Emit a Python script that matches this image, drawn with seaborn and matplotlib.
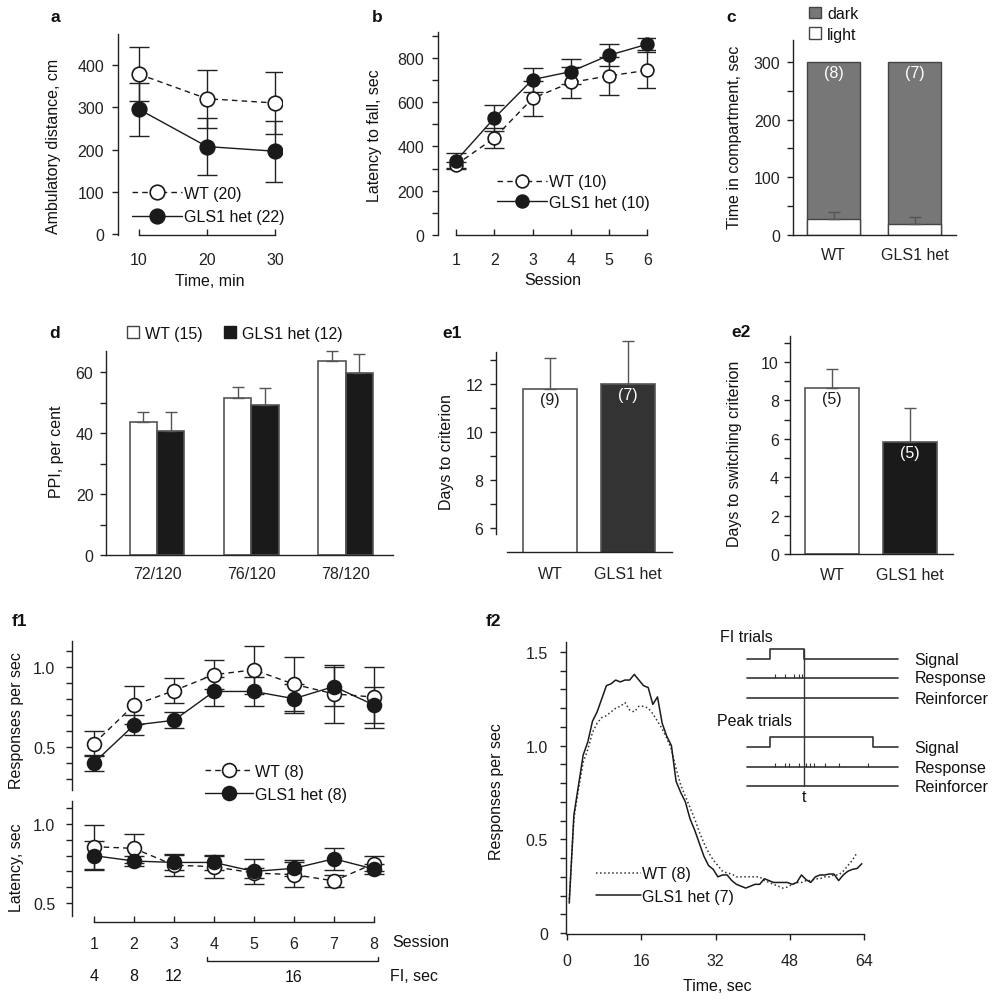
import numpy as np
import pandas as pd
import matplotlib
matplotlib.use("Agg")
import matplotlib.pyplot as plt
import seaborn as sns
from matplotlib.ticker import MultipleLocator, FixedLocator
from matplotlib.patches import Patch
from matplotlib.lines import Line2D

# ---- DATA ----
# a: ambulatory distance
time_a = [10, 20, 30]
wt_a = [378, 320, 310]
wt_a_err = [64, 68, 73]
het_a = [295, 207, 196]
het_a_err = [63, 68, 72]

# b: rotarod
session_b = [1, 2, 3, 4, 5, 6]
wt_b = [317, 438, 617, 689, 719, 744]
wt_b_err = [15, 46, 79, 68, 86, 82]
het_b = [335, 528, 702, 738, 812, 862]
het_b_err = [35, 58, 54, 56, 50, 27]

# c: light/dark box
groups = ["WT", "GLS1 het"]
light_c = [28, 19]
light_c_err = [12, 12]
dark_c = [272, 281]
n_c = ["(8)", "(7)"]

# d: PPI
ppi_conds = ["72/120", "76/120", "78/120"]
wt_d = [43.6, 51.4, 63.6]
wt_d_err = [3.2, 3.7, 3.2]
het_d = [40.6, 49.2, 59.6]
het_d_err = [6.2, 5.7, 6.3]

# e1 / e2
e1_vals = [11.8, 12.0]
e1_err = [1.28, 1.8]
n_e1 = ["(9)", "(7)"]
e2_vals = [8.63, 5.84]
e2_err = [1.02, 1.76]
n_e2 = ["(5)", "(5)"]

# f1
sessions_f1 = [1, 2, 3, 4, 5, 6, 7, 8]
wt_rate = [0.52, 0.76, 0.85, 0.95, 0.98, 0.89, 0.83, 0.81]
wt_rate_err = [0.08, 0.12, 0.08, 0.09, 0.15, 0.17, 0.18, 0.19]
het_rate = [0.40, 0.635, 0.665, 0.845, 0.845, 0.80, 0.876, 0.76]
het_rate_err = [0.05, 0.06, 0.05, 0.09, 0.09, 0.09, 0.12, 0.11]
wt_lat = [0.857, 0.846, 0.74, 0.73, 0.69, 0.68, 0.64, 0.75]
wt_lat_err = [0.14, 0.09, 0.07, 0.07, 0.03, 0.08, 0.04, 0.05]
het_lat = [0.80, 0.766, 0.757, 0.757, 0.70, 0.72, 0.78, 0.715]
het_lat_err = [0.09, 0.03, 0.05, 0.05, 0.08, 0.05, 0.07, 0.03]
fi_labels = ["4", "8", "12"]

# f2: response rate over the trial
t_het = [0.5, 1.5, 2.5, 3.5, 4.5, 5.5, 6.5, 7.5, 8.5, 9.5, 10.5, 11.5, 12.5, 13.5, 14.5, 15.5,
         16.5, 17.5, 18.5, 19.5, 20.5, 21.5, 22.5, 23.5, 24.5, 25.5, 26.5, 27.5, 28.5, 29.5, 30.5, 31.5,
         32.5, 33.5, 34.5, 35.5, 36.5, 37.5, 38.5, 39.5, 40.5, 41.5, 42.5, 43.5, 44.5, 45.5, 46.5, 47.5,
         48.5, 49.5, 50.5, 51.5, 52.5, 53.5, 54.5, 55.5, 56.5, 57.5, 58.5, 59.5, 60.5, 61.5, 62.5, 63.5]
rate_het = [0.16, 0.63, 0.79, 0.95, 1.02, 1.13, 1.18, 1.25, 1.32, 1.33, 1.35, 1.34, 1.35, 1.35, 1.38, 1.35,
            1.32, 1.31, 1.22, 1.26, 1.12, 1.05, 1.00, 0.81, 0.75, 0.70, 0.61, 0.55, 0.48, 0.41, 0.36, 0.34,
            0.30, 0.31, 0.31, 0.28, 0.26, 0.25, 0.24, 0.25, 0.26, 0.26, 0.29, 0.28, 0.27, 0.27, 0.27, 0.27,
            0.26, 0.27, 0.31, 0.285, 0.27, 0.30, 0.31, 0.31, 0.315, 0.315, 0.28, 0.31, 0.33, 0.34, 0.345, 0.37]
t_wt = [0.5, 1.5, 2.5, 3.5, 4.5, 5.5, 6.5, 7.5, 8.5, 9.5, 10.5, 11.5, 12.5, 13.5, 14.5, 15.5,
        16.5, 17.5, 18.5, 19.5, 20.5, 21.5, 22.5, 23.5, 24.5, 25.5, 26.5, 27.5, 28.5, 29.5, 30.5, 31.5,
        32.5, 33.5, 34.5, 35.5, 36.5, 37.5, 38.5, 39.5, 40.5, 41.5, 42.5, 43.5, 44.5, 45.5, 46.5, 47.5,
        48.5, 49.5, 50.5, 51.5, 52.5, 53.5, 54.5, 55.5, 56.5, 57.5, 58.5, 59.5, 60.5, 61.5, 62.5]
rate_wt = [0.18, 0.61, 0.77, 0.91, 0.98, 1.07, 1.12, 1.15, 1.16, 1.18, 1.20, 1.21, 1.23, 1.19, 1.18, 1.21,
           1.21, 1.20, 1.17, 1.13, 1.09, 1.04, 0.98, 0.88, 0.79, 0.73, 0.67, 0.61, 0.54, 0.48, 0.43, 0.39,
           0.36, 0.33, 0.32, 0.315, 0.30, 0.30, 0.30, 0.30, 0.30, 0.30, 0.28, 0.27, 0.26, 0.25, 0.24, 0.245,
           0.26, 0.27, 0.27, 0.28, 0.28, 0.29, 0.29, 0.30, 0.30, 0.31, 0.31, 0.33, 0.36, 0.39, 0.43]

# ---- STYLE ----
sns.set_style("ticks")
plt.rcParams["font.family"] = ["Liberation Sans", "DejaVu Sans"]
plt.rcParams["font.size"] = 11.5
plt.rcParams["axes.edgecolor"] = "#222222"
plt.rcParams["axes.linewidth"] = 1.0
plt.rcParams["xtick.color"] = "#222222"
plt.rcParams["ytick.color"] = "#222222"
plt.rcParams["text.color"] = "#111111"
INK = "#1a1a1a"
FS = 11.5

W, H = 1008, 1003
fig = plt.figure(figsize=(W / 100, H / 100), dpi=100)


def add_box(l, t, r, b):
    ax = fig.add_axes([l / W, 1 - b / H, (r - l) / W, (b - t) / H])
    ax.patch.set_alpha(0)
    return ax


def ftext(x, y, s, **kw):
    kw.setdefault("fontsize", FS)
    fig.text(x / W, 1 - y / H, s, **kw)


def style(ax, ypad=5, xpad=8):
    sns.despine(ax=ax)
    ax.tick_params(axis="y", which="both", direction="out", length=4, width=1, pad=ypad, labelsize=FS)
    ax.tick_params(axis="x", which="both", length=0, pad=xpad, labelsize=FS)


def mean_line(ax, x, y, err, filled, ms):
    ax.errorbar(x, y, yerr=err, fmt="none", ecolor="#222222", elinewidth=1, capsize=7,
                capthick=1, zorder=2)
    sns.lineplot(x=x, y=y, ax=ax, color=INK, linewidth=1,
                 linestyle="-" if filled else (0, (4, 3)),
                 marker="o", markersize=ms, markerfacecolor=INK if filled else "white",
                 markeredgecolor=INK, markeredgewidth=1.2, zorder=3, legend=False)


def line_legend(x, y, wt_label, het_label, ms, spacing, hl=3.1):
    h = [Line2D([], [], color=INK, lw=1, ls=(0, (4, 3)), marker="o", ms=ms, mfc="white",
                mec=INK, mew=1.2),
         Line2D([], [], color=INK, lw=1, ls="-", marker="o", ms=ms, mfc=INK, mec=INK, mew=1.2)]
    fig.legend(h, [wt_label, het_label], loc="center left", bbox_to_anchor=(x / W, 1 - y / H),
               bbox_transform=fig.transFigure, frameon=False, borderpad=0, borderaxespad=0,
               handlelength=hl, handletextpad=0.15, labelspacing=spacing, fontsize=FS)


def bar_err(ax, container, err):
    xs = [p.get_x() + p.get_width() / 2 for p in container]
    hs = [p.get_height() + p.get_y() for p in container]
    ax.errorbar(xs, hs, yerr=[[0] * len(err), err], fmt="none", ecolor="#555555",
                elinewidth=1, capsize=4, capthick=1, zorder=1, clip_on=False)


def n_labels(ax, container, labels, colors):
    for p, s, c in zip(container, labels, colors):
        ax.annotate(s, (p.get_x() + p.get_width() / 2, p.get_y() + p.get_height()),
                    xytext=(0, -2), textcoords="offset points", ha="center", va="top",
                    color=c, fontsize=FS)


# ---- a ----
ax = add_box(118, 35, 282, 236)
mean_line(ax, time_a, wt_a, wt_a_err, False, 10.5)
mean_line(ax, time_a, het_a, het_a_err, True, 10.5)
ax.set_xlim(6.91, 31.03)
ax.set_ylim(-2, 473)
style(ax, ypad=6)
ax.set_yticks([0, 100, 200, 300, 400])
ax.set_xticks(time_a)
ax.tick_params(axis="x", direction="in", length=4, width=1, pad=12)
ax.spines["bottom"].set_bounds(10, 30)
ax.set_xlabel("")
ax.set_ylabel("")
line_legend(132, 206, "WT (20)", "GLS1 het (22)", 10.5, 0.55)
ftext(54, 146, "Ambulatory distance, cm", rotation=90, ha="center", va="center")
ftext(210, 282, "Time, min", ha="center", va="center")
ftext(55, 18, "a", fontweight="bold", fontsize=12.5, ha="center", va="center")

# ---- b ----
ax = add_box(438, 33, 655, 236)
mean_line(ax, session_b, wt_b, wt_b_err, False, 9.2)
mean_line(ax, session_b, het_b, het_b_err, True, 9.2)
ax.set_xlim(0.53, 6.2)
ax.set_ylim(0, 917)
style(ax, ypad=6)
ax.set_yticks([0, 200, 400, 600, 800])
ax.yaxis.set_minor_locator(FixedLocator([100, 300, 500, 700, 900]))
ax.set_xticks(session_b)
ax.tick_params(axis="x", direction="in", length=4, width=1, pad=12)
ax.spines["bottom"].set_bounds(1, 6)
ax.set_xlabel("")
ax.set_ylabel("")
line_legend(497, 193, "WT (10)", "GLS1 het (10)", 9.2, 0.35)
ftext(375, 136, "Latency to fall, sec", rotation=90, ha="center", va="center")
ftext(553, 281, "Session", ha="center", va="center")
ftext(377, 18, "b", fontweight="bold", fontsize=12.5, ha="center", va="center")

# ---- c ----
ax = add_box(793, 41, 956, 236)
total_c = [l + d for l, d in zip(light_c, dark_c)]
sns.barplot(x=groups, y=total_c, ax=ax, color="#777777", edgecolor="#444444", linewidth=1,
            width=0.65, saturation=1)
sns.barplot(x=groups, y=light_c, ax=ax, color="white", edgecolor="#444444", linewidth=1,
            width=0.65, saturation=1)
bar_err(ax, ax.containers[1], light_c_err)
n_labels(ax, ax.containers[0], n_c, ["white", "white"])
ax.set_xlim(-0.5, 1.51)
ax.set_ylim(0, 338)
style(ax, ypad=5, xpad=9)
ax.yaxis.set_major_locator(MultipleLocator(100))
ax.yaxis.set_minor_locator(MultipleLocator(50))
ax.set_ylabel("")
ax.legend([Patch(fc="#777777", ec="#444444"), Patch(fc="white", ec="#444444")],
          ["dark", "light"], loc="center left", bbox_to_anchor=(809 / W, 1 - 25 / H),
          bbox_transform=fig.transFigure, frameon=False, borderpad=0, borderaxespad=0,
          handlelength=0.75, handleheight=0.75, handletextpad=0.4, labelspacing=0.35,
          fontsize=FS)
ftext(734, 137, "Time in compartment, sec", rotation=90, ha="center", va="center")
ftext(731, 18, "c", fontweight="bold", fontsize=12.5, ha="center", va="center")

# ---- d ----
ax = add_box(106, 352, 393, 556)
df_d = pd.DataFrame({
    "cond": ppi_conds * 2,
    "geno": ["WT (15)"] * 3 + ["GLS1 het (12)"] * 3,
    "ppi": wt_d + het_d,
})
sns.barplot(data=df_d, x="cond", y="ppi", hue="geno", palette=["white", INK], width=0.58,
            edgecolor="#555555", linewidth=1.2, saturation=1, legend=False, ax=ax)
bar_err(ax, ax.containers[0], wt_d_err)
bar_err(ax, ax.containers[1], het_d_err)
ax.set_xlim(-0.54, 2.5)
ax.set_ylim(0, 66.9)
style(ax, ypad=5, xpad=8)
ax.yaxis.set_major_locator(MultipleLocator(20))
ax.yaxis.set_minor_locator(MultipleLocator(10))
ax.set_xlabel("")
ax.set_ylabel("")
ax.legend([Patch(fc="white", ec="#444444"), Patch(fc=INK, ec=INK)],
          ["WT (15)", "GLS1 het (12)"], loc="center left",
          bbox_to_anchor=(127 / W, 1 - 334 / H), bbox_transform=fig.transFigure, ncol=2,
          frameon=False, borderpad=0, borderaxespad=0, handlelength=0.75, handleheight=0.75,
          handletextpad=0.4, columnspacing=1.3, fontsize=FS)
ftext(56, 452, "PPI, per cent", rotation=90, ha="center", va="center")
ftext(55, 334, "d", fontweight="bold", fontsize=12.5, ha="center", va="center")

# ---- e1 ----
ax = add_box(496, 353, 672, 553)
sns.barplot(x=groups, y=e1_vals, hue=groups, palette=["white", "#333333"], width=0.69,
            edgecolor="#555555", linewidth=1.2, saturation=1, legend=False, ax=ax)
ax.set_ylim(5, 13.33)
bars = [c[0] for c in ax.containers]
bar_err(ax, bars, e1_err)
n_labels(ax, bars, n_e1, [INK, "white"])
ax.set_xlim(-0.69, 1.56)
style(ax, ypad=5, xpad=10)
ax.set_yticks([6, 8, 10, 12])
ax.yaxis.set_minor_locator(FixedLocator([7, 9, 11, 13]))
ax.spines["left"].set_bounds(5.75, 13.33)
ax.spines["bottom"].set_bounds(-0.55, 1.56)
ax.set_ylabel("")
ftext(447, 452, "Days to criterion", rotation=90, ha="center", va="center")
ftext(452, 334, "e1", fontweight="bold", fontsize=12.5, ha="center", va="center")

# ---- e2 ----
ax = add_box(790, 337, 953, 555)
sns.barplot(x=groups, y=e2_vals, hue=groups, palette=["white", INK], width=0.69,
            edgecolor="#555555", linewidth=1.2, saturation=1, legend=False, ax=ax)
bars = [c[0] for c in ax.containers]
bar_err(ax, bars, e2_err)
n_labels(ax, bars, n_e2, [INK, "white"])
ax.set_xlim(-0.54, 1.55)
ax.set_ylim(0, 11.35)
style(ax, ypad=4, xpad=9)
ax.yaxis.set_major_locator(MultipleLocator(2))
ax.yaxis.set_minor_locator(MultipleLocator(1))
ax.set_ylabel("")
ftext(735, 454, "Days to switching criterion", rotation=90, ha="center", va="center")
ftext(741, 333, "e2", fontweight="bold", fontsize=12.5, ha="center", va="center")

# ---- f1 top ----
ax = add_box(72, 642, 390, 791)
mean_line(ax, sessions_f1, wt_rate, wt_rate_err, False, 10)
mean_line(ax, sessions_f1, het_rate, het_rate_err, True, 10)
ax.set_xlim(0.45, 8.4)
ax.set_ylim(0.23, 1.16)
style(ax, ypad=8)
ax.spines["bottom"].set_visible(False)
ax.set_xticks([])
ax.set_yticks([0.5, 1.0])
ax.yaxis.set_minor_locator(FixedLocator([0.3, 0.4, 0.6, 0.7, 0.8, 0.9, 1.1]))
ax.set_ylabel("")
line_legend(205, 784, "WT (8)", "GLS1 het (8)", 10, 0.5, hl=3.0)
ftext(17, 721, "Responses per sec", rotation=90, ha="center", va="center")
ftext(20, 622, "f1", fontweight="bold", fontsize=12.5, ha="center", va="center")

# ---- f1 bottom ----
ax = add_box(72, 802, 390, 923)
mean_line(ax, sessions_f1, wt_lat, wt_lat_err, False, 10)
mean_line(ax, sessions_f1, het_lat, het_lat_err, True, 10)
ax.set_xlim(0.45, 8.4)
ax.set_ylim(0.38, 1.146)
style(ax, ypad=8)
ax.set_yticks([0.5, 1.0])
ax.yaxis.set_minor_locator(FixedLocator([0.6, 0.7, 0.8, 0.9, 1.1]))
ax.spines["left"].set_bounds(0.42, 1.146)
ax.spines["bottom"].set_bounds(1, 8)
ax.set_xticks(sessions_f1)
ax.tick_params(axis="x", direction="in", length=4, width=1, pad=10)
ax.set_ylabel("")
tr = ax.get_xaxis_transform()
ax.text(8.45, -0.165, "Session", transform=tr, ha="left", va="center", fontsize=FS)
for s, lab in zip(sessions_f1, fi_labels):
    ax.text(s, -0.44, lab, transform=tr, ha="center", va="center", fontsize=FS)
ax.plot([3.83, 3.83, 8.1, 8.1], [-0.29, -0.322, -0.322, -0.29], transform=tr,
        color="#222222", lw=1, clip_on=False)
ax.text(5.98, -0.45, "16", transform=tr, ha="center", va="center", fontsize=FS)
ax.text(8.4, -0.44, "FI, sec", transform=tr, ha="left", va="center", fontsize=FS)
ftext(17, 868, "Latency, sec", rotation=90, ha="center", va="center")

# ---- f2 ----
ax = add_box(566, 643, 866, 935)
sns.lineplot(x=t_wt, y=rate_wt, ax=ax, color="#333333", linewidth=1.1, linestyle=":",
             label="WT (8)")
sns.lineplot(x=t_het, y=rate_het, ax=ax, color=INK, linewidth=1.1, label="GLS1 het (7)")
ax.set_xlim(-0.2, 64.4)
ax.set_ylim(-0.005, 1.553)
sns.despine(ax=ax)
ax.tick_params(axis="both", which="both", direction="out", length=4, width=1, labelsize=FS)
ax.tick_params(axis="y", pad=9)
ax.tick_params(axis="x", pad=10)
ax.set_xticks([0, 16, 32, 48, 64])
ax.set_yticks([0, 0.5, 1.0, 1.5])
ax.set_yticklabels(["0", "0.5", "1.0", "1.5"])
ax.yaxis.set_minor_locator(MultipleLocator(0.1))
ax.spines["bottom"].set_bounds(0, 64)
ax.legend(loc="center left", bbox_to_anchor=(596 / W, 1 - 886 / H),
          bbox_transform=fig.transFigure, frameon=False, borderpad=0, borderaxespad=0,
          handlelength=2.8, handletextpad=0.05, labelspacing=0.45, fontsize=FS)
ftext(497, 792, "Responses per sec", rotation=90, ha="center", va="center")
ftext(717, 987, "Time, sec", ha="center", va="center")
ftext(493, 622, "f2", fontweight="bold", fontsize=12.5, ha="center", va="center")

# f2 inset: trial schematic (timeline 0..1, signal on at 0.152, t at 0.377)
ins = add_box(700, 625, 1008, 805)
ins.set_xlim(-0.311, 1.728)
ins.set_ylim(0, 180)
ins.axis("off")
lk = dict(color="#333333", lw=1.2)
ins.plot([0, 0.152, 0.152, 0.377, 0.377, 1], [145, 145, 155, 155, 145, 145], **lk)
ins.plot([0, 1], [126, 126], **lk)
ins.plot([0, 1], [106, 106], **lk)
ins.vlines([0.185, 0.252, 0.313, 0.344, 0.362], 126, 130, color="#333333", lw=0.8)
ins.plot([0, 0.152, 0.152, 0.834, 0.834, 1], [57, 57, 67, 67, 57, 57], **lk)
ins.plot([0, 1], [37, 37], **lk)
ins.plot([0, 1], [18, 18], **lk)
ins.vlines([0.185, 0.252, 0.280, 0.346, 0.391, 0.417, 0.446, 0.517, 0.609, 0.803], 37, 41,
           color="#333333", lw=0.8)
ins.plot([0.377, 0.377], [155, 18], color="#333333", lw=1)
ins.text(0.377, 8, "t", ha="center", va="center", fontsize=FS)
ins.text(-0.18, 168, "FI trials", ha="left", va="center", fontsize=FS)
ins.text(-0.2, 83, "Peak trials", ha="left", va="center", fontsize=FS)
for yy, lab in [(145, "Signal"), (126, "Response"), (106, "Reinforcer"),
                (57, "Signal"), (37, "Response"), (18, "Reinforcer")]:
    ins.text(1.11, yy, lab, ha="left", va="center", fontsize=FS)

fig.savefig("out.png", dpi=100, facecolor="white")
